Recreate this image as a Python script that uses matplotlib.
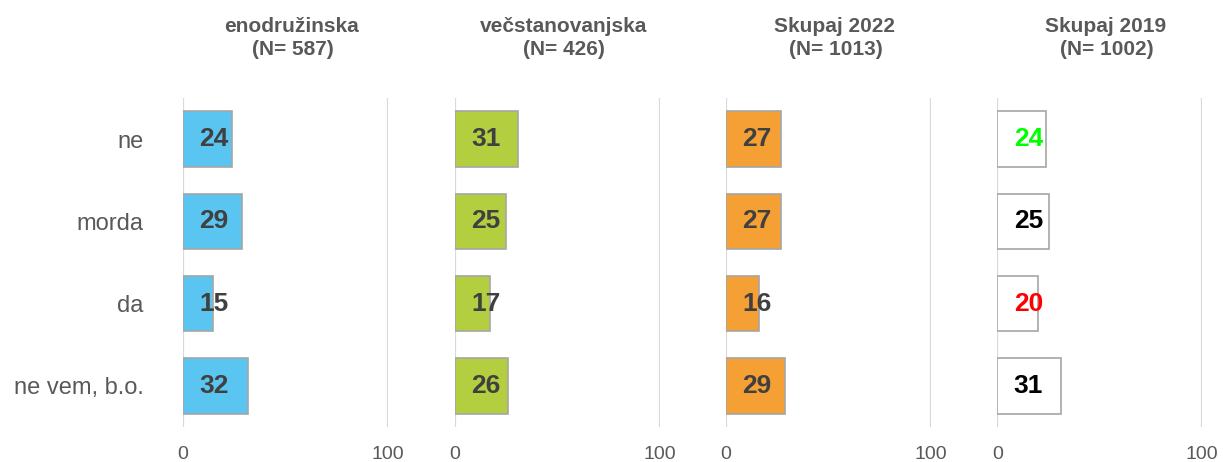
import matplotlib
matplotlib.use('Agg')
import matplotlib.pyplot as plt
from matplotlib.transforms import blended_transform_factory

plt.rcParams.update({
    'font.family': ['Liberation Sans', 'DejaVu Sans'],
    'figure.facecolor': 'white', 'axes.facecolor': 'white',
})

# data
categories = ['ne', 'morda', 'da', 'ne vem, b.o.']
groups = ['enodružinska', 'večstanovanjska', 'Skupaj 2022', 'Skupaj 2019']
group_n = ['(N= 587)', '(N= 426)', '(N= 1013)', '(N= 1002)']
enodruzinska = [24, 29, 15, 32]
vecstanovanjska = [31, 25, 17, 26]
skupaj_2022 = [27, 27, 16, 29]
skupaj_2019 = [24, 25, 20, 31]
series = [enodruzinska, vecstanovanjska, skupaj_2022, skupaj_2019]

FILLS = ['#5BC5F2', '#B3CF40', '#F4A034', '#FFFFFF']
EDGE = '#A6A6A6'
GRID = '#D9D9D9'
TXT = '#595959'
VAL = '#404040'
# the 2019 column colours its numbers by hand in the original
label_cols_2019 = ['#00FF00', '#000000', '#FF0000', '#000000']

W, H = 1223, 462
fig = plt.figure(figsize=(W / 100, H / 100), dpi=100)
lefts = [182.7, 454.7, 726.0, 997.3]
bottom, height, width = 35, 329, 205

for k, (vals, left) in enumerate(zip(series, lefts)):
    ax = fig.add_axes([left / W, bottom / H, width / W, height / H])
    y = range(len(categories))
    ax.barh(y, vals, height=0.675, color=FILLS[k], edgecolor=EDGE, linewidth=1.2, zorder=3)
    ax.set_xlim(0, 100)
    ax.set_ylim(3.5, -0.5)
    for xv in (0, 100):
        ax.axvline(xv, color=GRID, lw=1.6, zorder=1)
    for s in ax.spines.values():
        s.set_visible(False)
    ax.set_xticks([0, 100])
    ax.set_xticklabels(['0', '100'])
    ax.tick_params(axis='x', length=0, pad=14, labelsize=14, labelcolor=TXT)
    if k == 0:
        ax.set_yticks(list(y))
        ax.set_yticklabels(categories)
        ax.tick_params(axis='y', length=0, pad=28, labelsize=17, labelcolor=TXT)
    else:
        ax.set_yticks([])
    for i, v in enumerate(vals):
        c = label_cols_2019[i] if k == 3 else VAL
        ax.text(15.2, i, '%d' % v, ha='center', va='center', fontsize=19,
                fontweight='bold', color=c, zorder=4)
    tr = blended_transform_factory(ax.transAxes, fig.transFigure)
    ax.text(0.53, 1 - 32 / H, groups[k], transform=tr, ha='center', va='baseline',
            fontsize=15, fontweight='bold', color=TXT)
    ax.text(0.535, 1 - 55 / H, group_n[k], transform=tr, ha='center', va='baseline',
            fontsize=15, fontweight='bold', color=TXT)

fig.savefig('out.png', dpi=100)
